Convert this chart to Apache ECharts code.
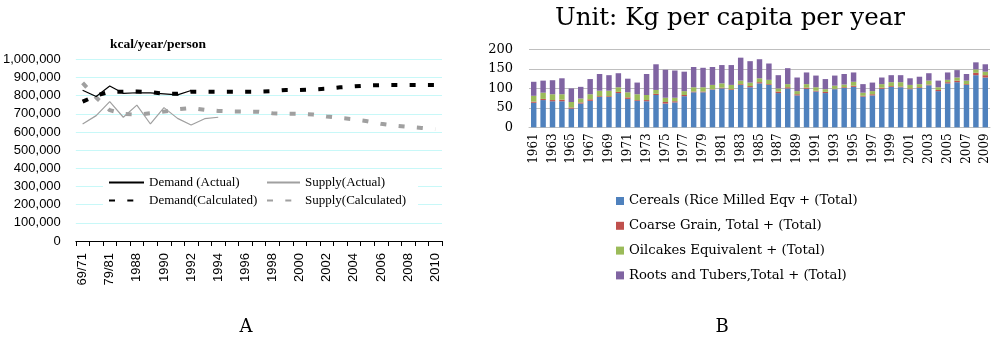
<!DOCTYPE html>
<html>
<head>
<meta charset="utf-8">
<script src="https://cdn.jsdelivr.net/npm/echarts@6/dist/echarts.min.js"></script>
<style>
html,body{margin:0;padding:0;background:#fff;}
#c{width:1000px;height:343px;}
</style>
</head>
<body>
<div id="c"></div>
<script>
// ---- Chart A data ----
const catA = ['69/71','74/76','79/81','1985','1988','1989','1990','1991','1992','1993','1994','1995','1996','1997','1998','1999','2000','2001','2002','2003','2004','2005','2006','2007','2008','2009','2010'];
const demandActual = [830000, 795000, 853000, 813000, 816000, 815000, 810000, 804000, 828000];
const supplyActual = [644000, 690000, 767000, 681000, 748000, 644000, 734000, 675000, 638000, 673000, 681000];
const demandCalc = [767000, 800000, 822000, 822000, 823000, 820000, 810000, 810000, 822000, 822000, 822000, 822000, 822000, 822000, 825000, 831000, 831000, 834000, 838000, 846000, 851000, 856000, 858000, 858000, 858000, 858000, 858000];
const supplyCalc = [870000, 790000, 720000, 700000, 695000, 703000, 712000, 725000, 732000, 722000, 716000, 713000, 712000, 712000, 703000, 701000, 700000, 696000, 685000, 677000, 670000, 659000, 645000, 635000, 628000, 622000, 615000];
const yTicksA = {min: 0, max: 1000000, interval: 100000};

// ---- Chart B data ----
const yearsB = ['1961','1962','1963','1964','1965','1966','1967','1968','1969','1970','1971','1972','1973','1974','1975','1976','1977','1978','1979','1980','1981','1982','1983','1984','1985','1986','1987','1988','1989','1990','1991','1992','1993','1994','1995','1996','1997','1998','1999','2000','2001','2002','2003','2004','2005','2006','2007','2008','2009'];
const cereals  = [63,70,67,67,48,61,68,78,78,88,73,68,67,83,61,64,80,90,90,97,100,96,109,103,113,109,88,100,82,99,92,88,98,101,104,79,82,99,104,103,98,101,108,93,113,116,109,134,128];
const coarse   = [3,3,3,4,3,3,4,2,2,3,4,2,3,3,4,3,3,2,2,1,2,2,2,3,3,2,4,3,3,3,2,3,1,2,3,2,3,3,2,2,2,2,2,3,3,4,2,6,6];
const oilcakes = [15,16,15,14,14,10,13,14,14,12,13,15,13,10,11,9,10,11,11,11,11,11,9,9,10,11,8,8,8,9,9,7,8,7,10,8,8,9,10,11,9,8,10,7,6,8,9,9,9];
const roots    = [36,31,36,41,35,30,39,43,40,36,35,30,54,66,72,70,50,52,50,46,47,51,59,55,49,42,34,41,35,30,30,26,26,27,24,22,22,17,18,18,17,19,19,17,19,19,17,18,19];
const yTicksB = {min: 0, max: 200, interval: 50};

const chart = echarts.init(document.getElementById('c'), null, {renderer: 'canvas'});
const sansA = 'Liberation Sans';
const serifA = 'Liberation Serif';
const serifB = 'DejaVu Serif';

const legendA = (name, left, top, w) => ({
  data: [name], left: left, top: top, padding: 0, itemWidth: w, itemHeight: 14,
  itemStyle: {opacity: 0},
  textStyle: {fontFamily: serifA, fontSize: 13, color: '#000'}
});

const option = {
  animation: false,
  backgroundColor: '#fff',
  graphic: [
    {type: 'rect', z: 3, shape: {x: 103, y: 172, width: 315, height: 43}, style: {fill: '#fff'}},
    {type: 'text', z: 10, x: 110, y: 45, style: {text: 'kcal/year/person', font: 'bold 13.5px "Liberation Serif"', fill: '#000', align: 'left', verticalAlign: 'middle'}},
    {type: 'text', z: 10, x: 730, y: 19, style: {text: 'Unit: Kg per capita per year', font: '24.5px "DejaVu Serif"', fill: '#000', align: 'center', verticalAlign: 'middle'}},
    {type: 'text', z: 10, x: 246, y: 327, style: {text: 'A', font: '18px "DejaVu Serif"', fill: '#000', align: 'center', verticalAlign: 'middle'}},
    {type: 'text', z: 10, x: 722, y: 327, style: {text: 'B', font: '18px "DejaVu Serif"', fill: '#000', align: 'center', verticalAlign: 'middle'}}
  ],
  legend: [
    legendA('Demand (Actual)', 108, 176, 35),
    legendA('Supply(Actual)', 266, 176, 33),
    legendA('Demand(Calculated)', 108, 194, 35),
    legendA('Supply(Calculated)', 266, 194, 33),
    {
      data: ['Cereals (Rice Milled Eqv + (Total)', 'Coarse Grain, Total + (Total)', 'Oilcakes Equivalent + (Total)', 'Roots and Tubers,Total + (Total)'],
      orient: 'vertical', left: 616, top: 193, padding: 0, itemWidth: 8, itemHeight: 8, itemGap: 8.8, icon: 'rect',
      textStyle: {fontFamily: serifB, fontSize: 13.2, color: '#000', lineHeight: 16}
    }
  ],
  grid: [
    {left: 75, top: 59.3, width: 367, height: 181.7, containLabel: false},
    {left: 529, top: 49.5, width: 461, height: 77.8, containLabel: false}
  ],
  xAxis: [
    {
      type: 'category', gridIndex: 0, data: catA, boundaryGap: true,
      axisLine: {show: true, lineStyle: {color: '#000', width: 1}},
      axisTick: {show: true, interval: 0, length: 5, lineStyle: {color: '#000'}},
      axisLabel: {interval: 1, rotate: 90, margin: 12, fontFamily: sansA, fontSize: 13, color: '#000'},
      splitLine: {show: false}
    },
    {
      type: 'category', gridIndex: 1, data: yearsB, boundaryGap: true,
      axisLine: {show: true, lineStyle: {color: '#bfbfbf', width: 1}},
      axisTick: {show: false},
      axisLabel: {interval: 1, rotate: 90, margin: 6, fontFamily: serifB, fontSize: 12, color: '#000'},
      splitLine: {show: false}
    }
  ],
  yAxis: [
    {
      type: 'value', gridIndex: 0, min: yTicksA.min, max: yTicksA.max, interval: yTicksA.interval,
      axisLine: {show: false}, axisTick: {show: false},
      axisLabel: {margin: 15, fontFamily: sansA, fontSize: 13, color: '#000', formatter: v => v.toLocaleString('en-US')},
      splitLine: {show: true, lineStyle: {color: '#c8f8f8', width: 1}}
    },
    {
      type: 'value', gridIndex: 1, min: yTicksB.min, max: yTicksB.max, interval: yTicksB.interval,
      axisLine: {show: false}, axisTick: {show: false},
      axisLabel: {margin: 16, fontFamily: serifB, fontSize: 13, color: '#000'},
      splitLine: {show: true, lineStyle: {color: '#bfbfbf', width: 1}}
    }
  ],
  series: [
    {name: 'Demand (Actual)', type: 'line', xAxisIndex: 0, yAxisIndex: 0, data: demandActual, symbol: 'none', z: 5,
     lineStyle: {color: '#000', width: 1.2}, itemStyle: {color: '#000'}},
    {name: 'Supply(Actual)', type: 'line', xAxisIndex: 0, yAxisIndex: 0, data: supplyActual, symbol: 'none', z: 5,
     lineStyle: {color: '#a0a0a0', width: 1.2}, itemStyle: {color: '#a0a0a0'}},
    {name: 'Demand(Calculated)', type: 'line', xAxisIndex: 0, yAxisIndex: 0, data: demandCalc, symbol: 'none', z: 4,
     lineStyle: {color: '#000', width: 4, type: [6, 12.3], cap: 'butt'}, itemStyle: {color: '#000'}},
    {name: 'Supply(Calculated)', type: 'line', xAxisIndex: 0, yAxisIndex: 0, data: supplyCalc, symbol: 'none', z: 4,
     lineStyle: {color: '#a0a0a0', width: 4, type: [6, 12.3], cap: 'butt'}, itemStyle: {color: '#a0a0a0'}},
    {name: 'Cereals (Rice Milled Eqv + (Total)', type: 'bar', stack: 'b', xAxisIndex: 1, yAxisIndex: 1, data: cereals, barWidth: '58%',
     itemStyle: {color: '#4f81bd'}},
    {name: 'Coarse Grain, Total + (Total)', type: 'bar', stack: 'b', xAxisIndex: 1, yAxisIndex: 1, data: coarse, barWidth: '58%',
     itemStyle: {color: '#c0504d'}},
    {name: 'Oilcakes Equivalent + (Total)', type: 'bar', stack: 'b', xAxisIndex: 1, yAxisIndex: 1, data: oilcakes, barWidth: '58%',
     itemStyle: {color: '#9bbb59'}},
    {name: 'Roots and Tubers,Total + (Total)', type: 'bar', stack: 'b', xAxisIndex: 1, yAxisIndex: 1, data: roots, barWidth: '58%',
     itemStyle: {color: '#8064a2'}}
  ]
};
chart.setOption(option);
</script>
</body>
</html>
